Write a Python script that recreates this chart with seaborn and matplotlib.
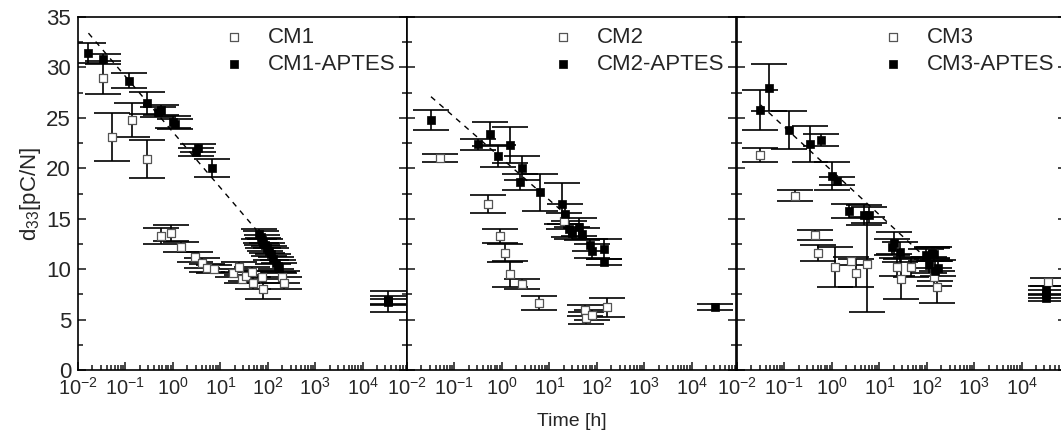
import matplotlib
matplotlib.use("Agg")
import matplotlib.pyplot as plt
import seaborn as sns
import numpy as np
import pandas as pd
from matplotlib.ticker import LogLocator, MultipleLocator, NullFormatter

#---- Data -------------------------------------------------------------####

# panel 1
cm1_x = [0.034, 0.051, 0.134, 0.29, 0.55, 0.89, 1.5, 2.9, 4.0, 5.1, 7.2, 18.6, 25, 29, 35, 46, 49, 74, 78, 195, 220]
cm1_y = [29.0, 23.1, 24.8, 20.9, 13.3, 13.6, 12.2, 11.2, 10.6, 10.1, 10.0, 9.6, 10.2, 9.0, 9.3, 9.7, 8.6, 9.2, 8.0, 9.2, 8.6]
cm1_err = [1.6, 2.4, 1.7, 1.9, 0.8, 0.8, 0.5, 0.5, 0.5, 0.4, 0.4, 0.4, 0.5, 0.4, 0.5, 0.5, 0.6, 0.6, 1.0, 0.6, 0.6]

cm1a_x = [0.0166, 0.034, 0.119, 0.29, 0.49, 0.57, 0.99, 1.1, 3.0, 3.4, 6.6,
          65, 70, 75, 80, 88, 95, 105, 115, 130, 145, 160, 175, 34000, 34000, 34000]
cm1a_y = [31.4, 30.8, 28.7, 26.5, 25.6, 25.8, 24.6, 24.4, 21.6, 22.0, 20.0,
          13.5, 13.2, 12.9, 12.6, 12.4, 12.1, 11.8, 11.5, 11.0, 10.6, 10.3, 10.1, 6.8, 6.9, 6.7]
cm1a_err = [1.0, 0.5, 0.7, 1.1, 0.5, 0.5, 0.6, 0.5, 0.4, 0.4, 0.9,
            0.5, 0.6, 0.5, 0.5, 0.6, 0.5, 0.5, 0.6, 0.5, 0.6, 0.6, 0.5, 1.0, 0.4, 0.3]

fit1_x = [0.0166, 57]
fit1_y = [33.4, 13.9]

# panel 2
cm2_x = [0.049, 0.52, 0.89, 1.17, 1.45, 2.7, 5.9, 20, 55, 60, 78, 162]
cm2_y = [21.0, 16.5, 13.3, 11.6, 9.5, 8.5, 6.6, 14.8, 5.9, 5.2, 5.45, 6.2]
cm2_err = [0.4, 0.9, 0.7, 0.85, 1.3, 0.5, 0.7, 0.8, 0.5, 0.6, 0.5, 0.9]

cm2a_x = [0.032, 0.32, 0.55, 0.83, 1.45, 2.6, 2.4, 6.2, 18.6, 21.6, 26, 30, 43, 48, 72, 78, 138, 138, 31000]
cm2a_y = [24.8, 22.4, 23.4, 21.2, 22.3, 20.0, 18.6, 17.6, 16.5, 15.5, 14.0, 13.6, 14.2, 13.5, 12.4, 11.8, 12.0, 10.7, 6.2]
cm2a_err = [1.0, 0.55, 1.2, 1.1, 1.8, 1.2, 0.8, 1.8, 2.0, 1.0, 0.8, 0.6, 0.9, 0.6, 0.6, 0.7, 1.0, 0.3, 0.3]

fit2_x = [0.032, 17]
fit2_y = [27.1, 15.9]

# panel 3
cm3_x = [0.031, 0.17, 0.45, 0.50, 1.17, 2.5, 3.2, 5.4, 24, 28, 47, 126, 142, 160, 35000]
cm3_y = [21.3, 17.3, 13.4, 11.6, 10.2, 10.85, 9.6, 10.5, 10.25, 9.0, 10.2, 11.6, 9.25, 8.2, 8.7]
cm3_err = [0.7, 0.55, 0.5, 0.8, 2.0, 0.4, 1.4, 4.7, 0.9, 2.0, 1.0, 0.5, 0.9, 1.6, 0.4]

cm3a_x = [0.031, 0.047, 0.126, 0.35, 0.59, 1.02, 1.27, 2.3, 4.8, 6.0, 20, 18, 27,
          94, 110, 126, 140, 170, 150, 31600, 31600, 31600]
cm3a_y = [25.8, 28.0, 23.8, 22.4, 22.8, 19.2, 18.7, 15.8, 15.4, 15.4, 12.6, 12.2, 11.7,
          11.4, 10.4, 11.6, 11.5, 10.1, 9.8, 7.9, 7.5, 7.1]
cm3a_err = [2.0, 2.3, 1.85, 1.75, 0.55, 1.4, 0.4, 0.7, 1.0, 0.8, 1.1, 0.8, 1.0,
            0.6, 0.8, 0.6, 0.7, 0.8, 1.0, 0.4, 0.4, 0.3]

fit3_x = [0.031, 74]
fit3_y = [26.3, 11.6]

panels = [
    ("CM1", cm1_x, cm1_y, cm1_err, cm1a_x, cm1a_y, cm1a_err, fit1_x, fit1_y),
    ("CM2", cm2_x, cm2_y, cm2_err, cm2a_x, cm2a_y, cm2a_err, fit2_x, fit2_y),
    ("CM3", cm3_x, cm3_y, cm3_err, cm3a_x, cm3a_y, cm3a_err, fit3_x, fit3_y),
]

#---- Style ------------------------------------------------------------####

sns.set_style("ticks")
plt.rcParams['font.family'] = ['Liberation Sans', 'DejaVu Sans']
plt.rcParams['mathtext.default'] = 'regular'
plt.rcParams['axes.unicode_minus'] = False
plt.rcParams['axes.linewidth'] = 1.2

W, H = 1061, 437
fig = plt.figure(figsize=(W / 100, H / 100), dpi=100)

top_px, bot_px = 17, 370
lefts_px = [78, 407, 737]
width_px = 329

#---- Plot -------------------------------------------------------------####

for i, (name, ox, oy, oe, fx, fy, fe, lx, ly) in enumerate(panels):
    ax = fig.add_axes([lefts_px[i] / W, 1 - bot_px / H, width_px / W, (bot_px - top_px) / H])
    ax.set_xscale('log')

    open_df = pd.DataFrame({'t': ox, 'd33': oy})
    fill_df = pd.DataFrame({'t': fx, 'd33': fy})

    ax.errorbar(ox, oy, yerr=oe, fmt='none', ecolor='black', elinewidth=1.2,
                capsize=13, capthick=1.2, zorder=2)
    ax.errorbar(fx, fy, yerr=fe, fmt='none', ecolor='black', elinewidth=1.2,
                capsize=13, capthick=1.2, zorder=2)

    sns.lineplot(x=lx, y=ly, ax=ax, color='black', linewidth=1.0,
                 linestyle=(0, (4, 4)), zorder=3)

    sns.scatterplot(data=open_df, x='t', y='d33', ax=ax, marker='s', s=40,
                    facecolor='white', edgecolor='#555555', linewidth=0.9,
                    label=name, zorder=4)
    sns.scatterplot(data=fill_df, x='t', y='d33', ax=ax, marker='s', s=40,
                    color='black', edgecolor='black', linewidth=0.5,
                    label=name + '-APTES', zorder=5)

    ax.set_xlim(0.01, 10 ** 4.93)
    ax.set_ylim(0, 35)
    ax.xaxis.set_major_locator(LogLocator(base=10, numticks=12))
    ax.xaxis.set_minor_locator(LogLocator(base=10, subs=np.arange(2, 10), numticks=12))
    ax.xaxis.set_minor_formatter(NullFormatter())
    ax.yaxis.set_major_locator(MultipleLocator(5))
    ax.yaxis.set_minor_locator(MultipleLocator(2.5))
    ax.tick_params(which='both', direction='in', left=True, right=True, top=False,
                   bottom=True, width=1.2)
    ax.tick_params(which='major', length=6)
    ax.tick_params(which='minor', length=3.5)
    ax.tick_params(axis='x', which='major', labelsize=14.5, pad=5)
    ax.tick_params(axis='y', which='major', labelsize=16, pad=5)
    for s in ax.spines.values():
        s.set_visible(True)
        s.set_linewidth(1.2)
        s.set_color('black')

    ax.set_xlabel('')
    if i == 0:
        ax.set_ylabel('d$_{33}$[pC/N]', fontsize=16, labelpad=2)
    else:
        ax.set_ylabel('')
        ax.tick_params(axis='y', labelleft=False)
    if i == 1:
        ax.set_xlabel('Time [h]', fontsize=14, labelpad=10)

    ax.legend(loc='upper left', bbox_to_anchor=(0.40, 1.01), frameon=False,
              fontsize=16, markerscale=0.8, handlelength=1.0, handletextpad=1.0,
              labelspacing=0.27, borderaxespad=0.2)

fig.savefig('out.png', dpi=100)
